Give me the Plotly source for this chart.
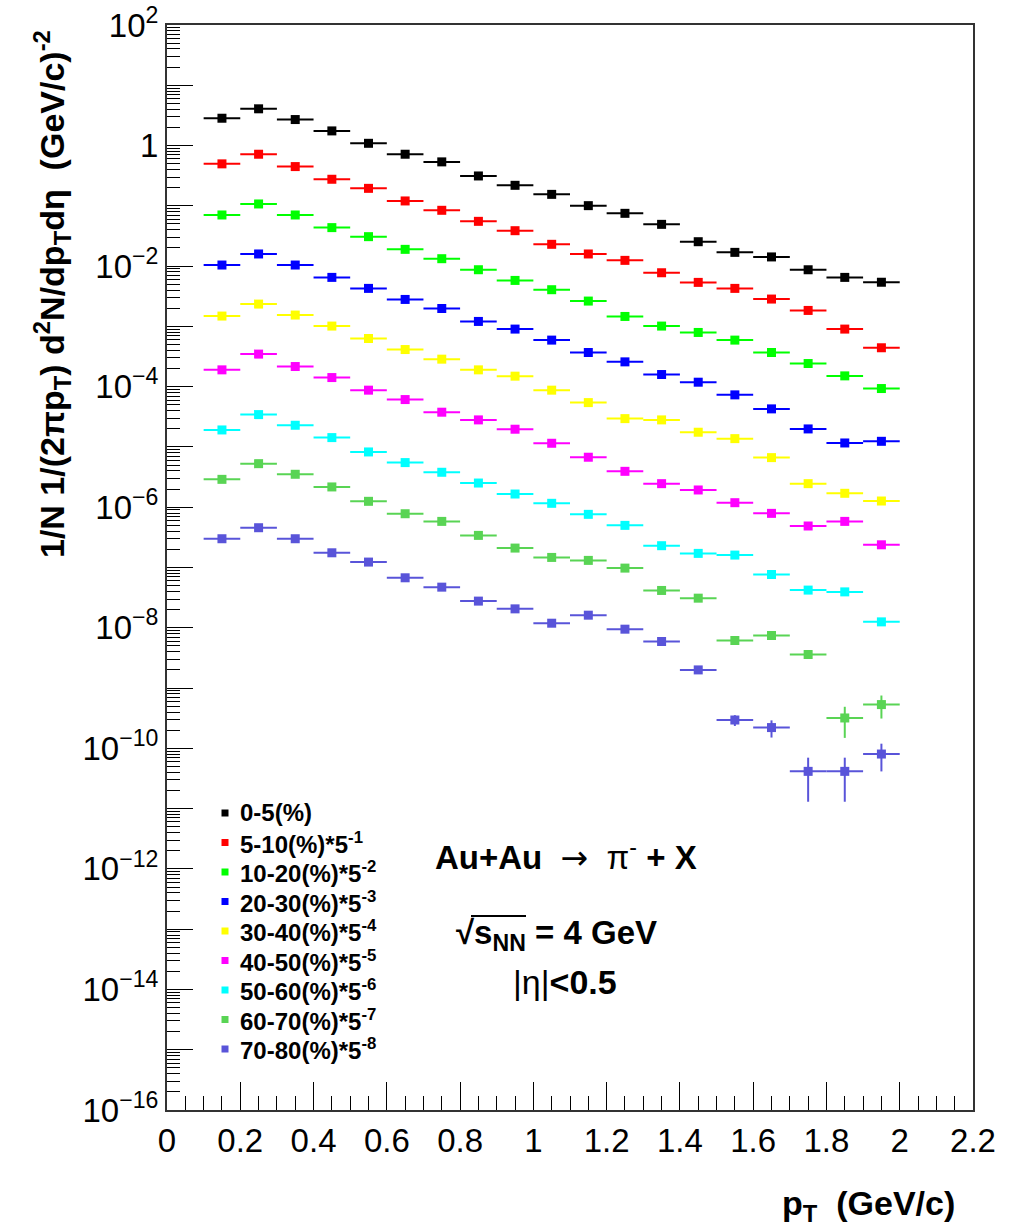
import plotly.graph_objects as go

# Transverse-momentum bins (GeV/c): centres and half widths
pt = [0.15, 0.25, 0.35, 0.45, 0.55, 0.65, 0.75, 0.85, 0.95, 1.05,
      1.15, 1.25, 1.35, 1.45, 1.55, 1.65, 1.75, 1.85, 1.95]
pt_half_width = [0.05] * len(pt)

# Invariant yields per centrality class, already scaled by 5^-k
y_0_5 = [2.84, 4.07, 2.70, 1.75, 1.09, 0.718, 0.536, 0.313, 0.219, 0.155,
         0.1007, 0.0751, 0.0493, 0.0254, 0.0169, 0.0142, 0.0087, 0.0065, 0.0054]
y_5_10 = [0.497, 0.718, 0.448, 0.276, 0.195, 0.1205, 0.0843, 0.0553, 0.0387, 0.0230,
          0.0159, 0.01245, 0.00776, 0.00537, 0.00427, 0.00284, 0.00184, 0.000902, 0.000442]
y_10_20 = [0.0705, 0.1074, 0.0705, 0.0435, 0.0308, 0.01897, 0.01327, 0.00871, 0.00579, 0.00406,
           0.00263, 0.001462, 0.001012, 0.000793, 0.000592, 0.000369, 0.000242, 0.000151, 0.0000931]
y_20_30 = [0.01042, 0.0159, 0.01042, 0.0065, 0.00427, 0.0028, 0.00198, 0.001208, 0.000902, 0.000592,
           0.000369, 0.000258, 0.000159, 0.0001186, 0.0000731, 0.0000428, 0.0000199, 0.00001164, 0.0000124]
y_30_40 = [1.483e-3, 2.344e-3, 1.542e-3, 1.012e-3, 6.30e-4, 4.13e-4, 2.86e-4, 1.901e-4, 1.493e-4, 8.75e-5,
           5.44e-5, 2.95e-5, 2.81e-5, 1.754e-5, 1.374e-5, 6.65e-6, 2.46e-6, 1.702e-6, 1.268e-6]
y_40_50 = [1.901e-4, 3.47e-4, 2.158e-4, 1.416e-4, 8.75e-5, 6.11e-5, 3.77e-5, 2.81e-5, 1.968e-5, 1.151e-5,
           6.75e-6, 3.94e-6, 2.46e-6, 1.932e-6, 1.189e-6, 7.91e-7, 4.88e-7, 5.82e-7, 2.38e-7]
y_50_60 = [1.914e-5, 3.44e-5, 2.29e-5, 1.429e-5, 8.26e-6, 5.50e-6, 3.80e-6, 2.52e-6, 1.656e-6, 1.161e-6,
           7.62e-7, 5.00e-7, 2.30e-7, 1.714e-7, 1.607e-7, 7.66e-8, 4.22e-8, 3.94e-8, 1.253e-8]
y_60_70 = [2.90e-6, 5.28e-6, 3.52e-6, 2.17e-6, 1.253e-6, 7.80e-7, 5.82e-7, 3.41e-7, 2.10e-7, 1.469e-7,
           1.312e-7, 9.77e-8, 4.16e-8, 3.10e-8, 6.15e-9, 7.45e-9, 3.60e-9, 3.19e-10, 5.32e-10]
y_70_80 = [3.00e-7, 4.57e-7, 3.00e-7, 1.754e-7, 1.230e-7, 6.75e-8, 4.72e-8, 2.77e-8, 2.06e-8, 1.191e-8,
           1.618e-8, 9.48e-9, 5.92e-9, 2.00e-9, 2.95e-10, 2.21e-10, 4.15e-11, 4.15e-11, 8.04e-11]

# Statistical errors (only the ones larger than the marker are visible)
err_60_70 = [0] * 17 + [1.7e-10, 2.2e-10]
err_70_80 = [0] * 14 + [0.6e-10, 0.7e-10, 2.85e-11, 2.85e-11, 3.9e-11]
zeros = [0] * len(pt)

labels = ["0-5(%)", "5-10(%)*5<sup>-1</sup>", "10-20(%)*5<sup>-2</sup>",
          "20-30(%)*5<sup>-3</sup>", "30-40(%)*5<sup>-4</sup>", "40-50(%)*5<sup>-5</sup>",
          "50-60(%)*5<sup>-6</sup>", "60-70(%)*5<sup>-7</sup>", "70-80(%)*5<sup>-8</sup>"]
series = [y_0_5, y_5_10, y_10_20, y_20_30, y_30_40, y_40_50, y_50_60, y_60_70, y_70_80]
errors = [zeros, zeros, zeros, zeros, zeros, zeros, zeros, err_60_70, err_70_80]
colors = ["#000000", "#ff0000", "#00ff00", "#0000ff", "#ffff00",
          "#ff00ff", "#00ffff", "#59d454", "#5954d9"]

FONT = "Liberation Sans, Arial, Helvetica, sans-serif"

W, H = 1023, 1228
L, R, T, B = 167, 50, 25, 118


def px(xp):
    return (xp - L) / (W - L - R)


def py(yp):
    return (H - B - yp) / (H - T - B)


fig = go.Figure()
for name, ys, es, col in zip(labels, series, errors, colors):
    fig.add_trace(go.Scatter(
        x=pt, y=ys, mode="markers", name=name, showlegend=False,
        marker=dict(symbol="square", size=9, color=col, line=dict(width=0)),
        error_x=dict(type="data", array=pt_half_width, color=col, thickness=2, width=0),
        error_y=dict(type="data", array=es, color=col, thickness=2, width=0),
    ))

# Major ticks every decade, labels every second decade
decades = list(range(-16, 3))
major_vals = [10.0 ** k for k in decades]
major_text = []
for k in decades:
    if k % 2:
        major_text.append("")
    elif k == 0:
        major_text.append("1")
    elif k > 0:
        major_text.append("10<sup>%d</sup>" % k)
    else:
        major_text.append("10<sup>\u2212%d</sup>" % (-k))
minor_vals = [m * 10.0 ** k for k in range(-16, 2) for m in range(2, 10)]

fig.update_xaxes(
    range=[0, 2.2], dtick=0.2, tick0=0, automargin=False,
    ticks="inside", ticklen=28, tickwidth=1, tickcolor="black",
    minor=dict(dtick=0.05, tick0=0, ticks="inside", ticklen=14, tickwidth=1, tickcolor="black"),
    showline=True, linecolor="#333333", linewidth=2, mirror=True,
    showgrid=False, zeroline=False,
    tickfont=dict(family=FONT, size=33, color="black"),
)
fig.update_yaxes(
    type="log", range=[-16, 2], automargin=False,
    tickmode="array", tickvals=major_vals, ticktext=major_text,
    ticks="inside", ticklen=26, tickwidth=1, tickcolor="black",
    minor=dict(tickmode="array", tickvals=minor_vals, ticks="inside", ticklen=13,
               tickwidth=1, tickcolor="black"),
    showline=True, linecolor="#333333", linewidth=2, mirror=True,
    showgrid=False, zeroline=False,
    tickfont=dict(family=FONT, size=33, color="black"),
)

annotations = [
    dict(text="1/N 1/(2\u03c0p<sub>T</sub>) d<sup>2</sup>N/dp<sub>T</sub>d\u03b7  (GeV/c)<sup>-2</sup>",
         x=px(52), y=py(28), xanchor="center", yanchor="top", textangle=-90,
         font=dict(family=FONT, size=34, color="black", weight="bold")),
    dict(text="p<sub>T</sub>  (GeV/c)", x=px(957), y=py(1205), xanchor="right", yanchor="middle",
         font=dict(family=FONT, size=34, color="black", weight="bold")),
    dict(text="<b>Au+Au</b>\u00a0 <span style=\"font-family:DejaVu Sans\">\u2192</span>\u00a0 "
              "\u03c0<sup>-</sup> <b>+ X</b>",
         x=px(566), y=py(855), xanchor="center", yanchor="middle",
         font=dict(family=FONT, size=33, color="black")),
    dict(text="\u221as<sub>NN</sub> = 4 GeV",
         x=px(556), y=py(935), xanchor="center", yanchor="middle",
         font=dict(family=FONT, size=33, color="black", weight="bold")),
    dict(text="|\u03b7|<b>&lt;0.5</b>", x=px(565), y=py(982), xanchor="center", yanchor="middle",
         font=dict(family=FONT, size=34, color="black")),
]

# Centrality legend: small coloured squares with labels
shapes = []
for i, (name, col) in enumerate(zip(labels, colors)):
    yc = 813 + 29.5 * i
    shapes.append(dict(type="rect", xref="paper", yref="paper",
                       x0=px(221.5), x1=px(228.5), y0=py(yc + 3.5), y1=py(yc - 3.5),
                       fillcolor=col, line=dict(width=0)))
    annotations.append(dict(text=name, x=px(238), y=py(yc), xanchor="left", yanchor="middle",
                            font=dict(family=FONT, size=24, color="black", weight="bold")))

# Overline of the square root
shapes.append(dict(type="line", xref="paper", yref="paper",
                   x0=px(471), x1=px(526), y0=py(916), y1=py(916),
                   line=dict(color="black", width=2)))

for a in annotations:
    a.update(xref="paper", yref="paper", showarrow=False)

fig.update_layout(
    width=W, height=H,
    margin=dict(l=L, r=R, t=T, b=B, pad=0),
    paper_bgcolor="white", plot_bgcolor="white",
    annotations=annotations, shapes=shapes,
    showlegend=False,
)

fig.write_html("out.html")
